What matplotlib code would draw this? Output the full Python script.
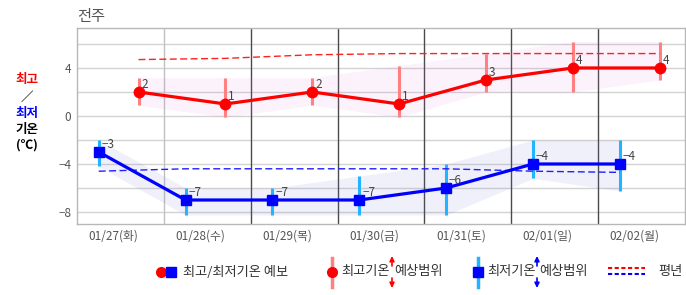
import numpy as np
import matplotlib.pyplot as plt

plt.rcParams['font.family'] = ['Noto Sans CJK KR', 'DejaVu Sans']

days = ['01/27(화)', '01/28(수)', '01/29(목)', '01/30(금)', '01/31(토)', '02/01(일)', '02/02(월)']
high = [2, 1, 2, 1, 3, 4, 4]
high_min = [0.9, -0.1, 0.9, -0.1, 2.0, 2.0, 3.0]
high_max = [3.2, 3.2, 3.2, 4.2, 5.2, 6.2, 6.2]
low = [-3, -7, -7, -7, -6, -4, -4]
low_min = [-4.2, -8.25, -8.25, -8.25, -8.25, -5.2, -6.25]
low_max = [-2.0, -6.0, -6.0, -5.0, -4.0, -2.0, -2.0]
norm_high = [4.7, 4.8, 5.1, 5.2, 5.2, 5.2, 5.2]
norm_low = [-4.6, -4.4, -4.4, -4.4, -4.4, -4.6, -4.7]
low_hour = 6
high_hour = 17

idx = np.arange(len(days))
xh = idx + high_hour / 24
xl = idx + low_hour / 24

fig = plt.figure(figsize=(6.86, 2.95), dpi=100)
ax = fig.add_axes([77 / 686, 71 / 295, 608 / 686, 196 / 295])
ax.set_xlim(0, 7)
ax.set_ylim(-9, 7.33)

# grid
for y in range(-8, 7, 2):
    ax.axhline(y, color='#d2d2d2', lw=1, zorder=0)
ax.axvline(1, color='#c0c0c0', lw=1, zorder=0)
for d in range(2, 7):
    ax.axvline(d, color='#4a4a4a', lw=1, zorder=0)

# ranges
ax.fill_between(xh, high_min, high_max, color='#e070e0', alpha=0.09, lw=0, zorder=1)
ax.fill_between(xl, low_min, low_max, color='#7070e0', alpha=0.1, lw=0, zorder=1)
ax.vlines(xh, high_min, high_max, color='#ff8080', lw=2.2, zorder=2)
ax.vlines(xl, low_min, low_max, color='#22b4ff', lw=2.2, zorder=2)

# normals
ax.plot(xh, norm_high, color='#ff2020', lw=1, dashes=(5, 2.5), zorder=2)
ax.plot(xl, norm_low, color='#2020ff', lw=1, dashes=(5, 2.5), zorder=2)

# forecasts
ax.plot(xh, high, color='#ff0000', lw=2.3, marker='o', ms=7.5, zorder=3)
ax.plot(xl, low, color='#0000ff', lw=2.3, marker='s', ms=7, zorder=3)
for x, v in zip(xh, high):
    ax.annotate(f'{v}'.replace('-', '−'), (x, v), xytext=(2, 1), textcoords='offset points',
                fontsize=8.5, color='#444444', ha='left', va='bottom', zorder=4)
for x, v in zip(xl, low):
    ax.annotate(f'{v}'.replace('-', '−'), (x, v), xytext=(2, 1), textcoords='offset points',
                fontsize=8.5, color='#444444', ha='left', va='bottom', zorder=4)

ax.set_yticks([-8, -4, 0, 4])
ax.set_yticklabels(['−8', '−4', '0', '4'])
ax.set_xticks(idx + 0.42)
ax.set_xticklabels(days)
ax.tick_params(length=0, labelsize=8.5, labelcolor='#555555', pad=4)
for s in ax.spines.values():
    s.set_color('#b8b8b8')
    s.set_linewidth(1)

fig.text(77 / 686, 1 - 16 / 295, '전주', fontsize=11, color='#555555', va='center', ha='left')

# left axis label
for txt, col, yy in [('최고', '#ff0000', 80), ('／', '#000000', 97), ('최저', '#0000ff', 113),
                     ('기온', '#000000', 129), ('(℃)', '#000000', 145)]:
    fig.text(27 / 686, 1 - yy / 295, txt, fontsize=9, color=col, fontweight='bold',
             ha='center', va='center')

# legend, drawn in pixel coordinates
ly = 272
leg = fig.add_axes([0, 0, 1, 1], facecolor='none')
leg.set_xlim(0, 686)
leg.set_ylim(295, 0)
leg.axis('off')


def arrows(x, col):
    for y0, y1 in [(266, 256), (278, 288)]:
        leg.annotate('', xy=(x, y1), xytext=(x, y0),
                     arrowprops=dict(arrowstyle='-|>', color=col, lw=1.2,
                                     mutation_scale=7, shrinkA=0, shrinkB=0))


lfs = 9.5
leg.plot([161], [ly], 'o', color='#ff0000', ms=7)
leg.plot([171], [ly], 's', color='#0000ff', ms=6.5)
leg.text(183, ly, '최고/최저기온 예보', fontsize=lfs, color='#333333', va='center')

leg.plot([332, 332], [258, 287], color='#ff8080', lw=2.5)
leg.plot([332], [ly], 'o', color='#ff0000', ms=7)
leg.text(341, ly, '최고기온', fontsize=lfs, color='#333333', va='center')
arrows(392, '#ff0000')
leg.text(394, ly, '예상범위', fontsize=lfs, color='#333333', va='center')

leg.plot([478, 478], [258, 287], color='#22b4ff', lw=2.5)
leg.plot([478], [ly], 's', color='#0000ff', ms=6.5)
leg.text(487, ly, '최저기온', fontsize=lfs, color='#333333', va='center')
arrows(537, '#0000ff')
leg.text(539, ly, '예상범위', fontsize=lfs, color='#333333', va='center')

leg.plot([608, 645], [268, 268], color='#ff0000', lw=1.5, dashes=(2, 1.2))
leg.plot([608, 645], [274, 274], color='#0000ff', lw=1.5, dashes=(2, 1.2))
leg.text(658, ly, '평년', fontsize=lfs, color='#333333', va='center')

plt.savefig('out.png', dpi=100)
